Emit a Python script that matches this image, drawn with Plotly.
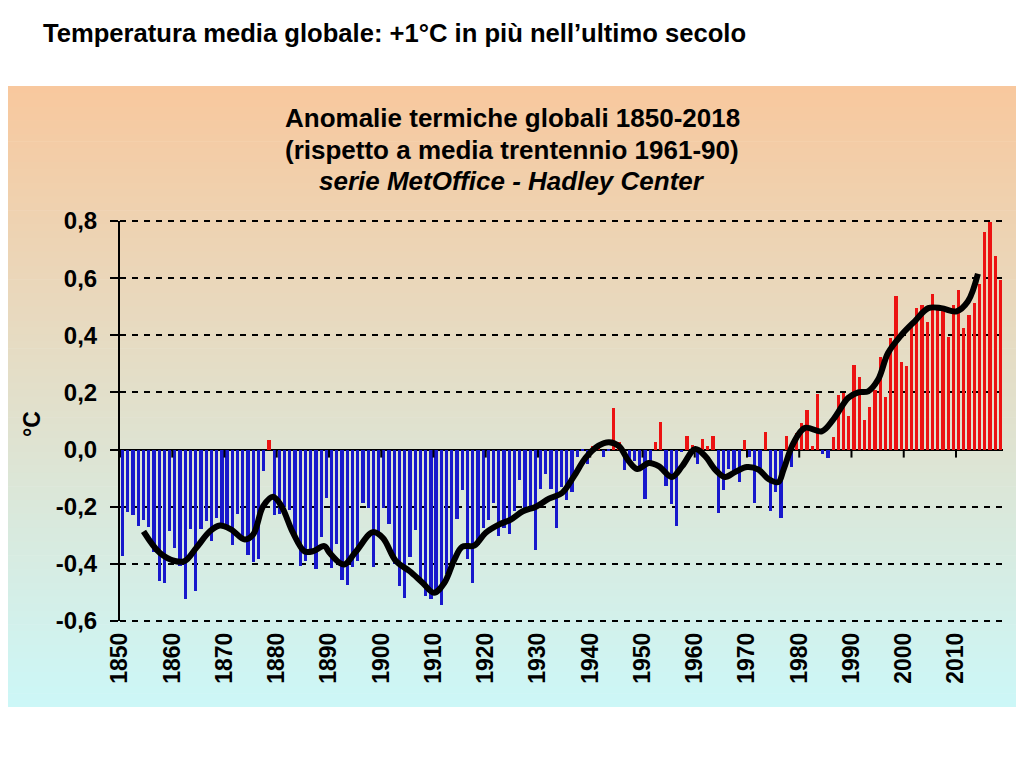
import plotly.graph_objects as go

years = list(range(1850, 2019))
anomalies = [
    -0.373, -0.218, -0.228, -0.269, -0.248, -0.272, -0.358, -0.461, -0.467, -0.284,
    -0.343, -0.407, -0.524, -0.278, -0.494, -0.279, -0.251, -0.321, -0.238, -0.262,
    -0.276, -0.335, -0.227, -0.304, -0.368, -0.395, -0.384, -0.075, 0.035, -0.230,
    -0.227, -0.200, -0.213, -0.296, -0.409, -0.389, -0.367, -0.418, -0.307, -0.171,
    -0.416, -0.330, -0.455, -0.473, -0.410, -0.390, -0.186, -0.206, -0.412, -0.289,
    -0.203, -0.259, -0.402, -0.479, -0.520, -0.377, -0.283, -0.465, -0.511, -0.522,
    -0.490, -0.544, -0.437, -0.424, -0.244, -0.141, -0.383, -0.468, -0.333, -0.275,
    -0.247, -0.187, -0.302, -0.276, -0.294, -0.215, -0.108, -0.210, -0.206, -0.350,
    -0.137, -0.087, -0.137, -0.273, -0.131, -0.178, -0.147, -0.026, -0.006, -0.052,
    0.014, 0.020, -0.027, -0.004, 0.144, 0.025, -0.071, -0.038, -0.039, -0.074,
    -0.173, -0.052, 0.028, 0.097, -0.129, -0.190, -0.267, -0.007, 0.046, 0.017,
    -0.049, 0.038, 0.014, 0.048, -0.223, -0.140, -0.068, -0.074, -0.113, 0.032,
    -0.027, -0.186, -0.065, 0.062, -0.214, -0.149, -0.241, 0.047, -0.062, 0.057,
    0.092, 0.140, 0.011, 0.194, -0.014, -0.030, 0.045, 0.192, 0.198, 0.118,
    0.296, 0.254, 0.105, 0.148, 0.208, 0.325, 0.183, 0.390, 0.539, 0.306,
    0.294, 0.441, 0.496, 0.505, 0.447, 0.545, 0.506, 0.491, 0.395, 0.506,
    0.560, 0.425, 0.470, 0.514, 0.579, 0.763, 0.797, 0.677, 0.595,
]

smooth_years = [1854.5, 1857.6, 1860.5, 1862.4, 1864.6, 1867.2, 1869.1, 1871.3, 1873.9, 1875.5,
                1877.4, 1879.3, 1880.9, 1883.1, 1885.3, 1886.9, 1889.1, 1890.1, 1892.0, 1893.0,
                1895.2, 1898.4, 1900.3, 1902.8, 1905.4, 1907.9, 1910.1, 1912.1, 1914.0, 1915.5,
                1917.8, 1920.0, 1922.6, 1924.8, 1927.1, 1929.6, 1932.1, 1934.6, 1936.9, 1939.1,
                1941.6, 1943.6, 1945.5, 1947.4, 1949.0, 1951.2, 1953.1, 1955.6, 1957.6, 1960.1,
                1962.0, 1963.9, 1965.8, 1967.7, 1970.0, 1972.2, 1974.1, 1976.0, 1977.0, 1978.9,
                1981.1, 1984.3, 1986.5, 1989.4, 1991.3, 1993.2, 1995.1, 1997.0, 1999.6, 2002.1,
                2004.7, 2007.2, 2010.1, 2012.3, 2014.2]
smooth_values = [-0.286, -0.361, -0.39, -0.39, -0.344, -0.286, -0.266, -0.28, -0.315, -0.297,
                 -0.198, -0.165, -0.198, -0.291, -0.356, -0.356, -0.338, -0.361, -0.396, -0.402,
                 -0.356, -0.289, -0.309, -0.39, -0.425, -0.466, -0.501, -0.466, -0.385, -0.34,
                 -0.336, -0.291, -0.262, -0.245, -0.216, -0.20, -0.172, -0.152, -0.093, -0.029,
                 0.014, 0.026, 0.012, -0.041, -0.068, -0.047, -0.058, -0.096, -0.058, 0.002,
                 -0.023, -0.07, -0.096, -0.079, -0.061, -0.07, -0.103, -0.114, -0.07, 0.023,
                 0.076, 0.064, 0.105, 0.181, 0.20, 0.204, 0.245, 0.338, 0.402, 0.449,
                 0.495, 0.495, 0.484, 0.519, 0.615]

x_ticks = [1850, 1860, 1870, 1880, 1890, 1900, 1910, 1920, 1930, 1940, 1950, 1960, 1970, 1980, 1990, 2000, 2010]
y_ticks = [-0.6, -0.4, -0.2, 0.0, 0.2, 0.4, 0.6, 0.8]
y_ticktext = ["-0,6", "-0,4", "-0,2", "0,0", "0,2", "0,4", "0,6", "0,8"]

main_title = "Temperatura media globale: +1°C in più nell’ultimo secolo"
chart_title = ["Anomalie termiche globali 1850-2018",
               "(rispetto a media trentennio 1961-90)",
               "<i>serie MetOffice - Hadley Center</i>"]

FONT = "Liberation Sans, Arial, sans-serif"
OFF = 8  # page body margin
W, H = 1024 - 2 * OFF, 757 - 2 * OFF
# plot area in page pixels
PL, PR, PT, PB = 120, 1003, 221, 621
ML, MT = PL - OFF, PT - OFF
MR = W - (PR - OFF)
MB = H - (PB - OFF)
PW, PH = PR - PL, PB - PT
Y_RANGE = [y_ticks[0], y_ticks[-1]]

def px_to_paper_x(px):
    return (px - PL) / PW

def px_to_paper_y(py):
    return (PB - py) / PH

blue = "#1818CC"
red = "#EC1212"
bar_x = [y + 0.5 for y in years]
colors = [red if v > 0 else blue for v in anomalies]

fig = go.Figure()
fig.add_trace(go.Bar(x=bar_x, y=anomalies, marker=dict(color=colors, line=dict(width=0)),
                     width=0.62, hoverinfo="x+y"))
fig.add_trace(go.Scatter(x=smooth_years, y=smooth_values, mode="lines",
                         line=dict(color="black", width=6, shape="spline", smoothing=1.0)))

# gradient background panel
top_c = (248, 200, 158)
bot_c = (204, 247, 247)
n = 90
p_top, p_bot = 86, 707
p_left, p_right = 3, 1020
shapes = []
for i in range(n):
    t = (i + 0.5) / n
    c = tuple(int(round(top_c[k] + (bot_c[k] - top_c[k]) * t)) for k in range(3))
    y0 = p_top + (p_bot - p_top) * i / n
    y1 = p_top + (p_bot - p_top) * (i + 1) / n + 0.6
    shapes.append(dict(type="rect", xref="paper", yref="paper", layer="below",
                       x0=px_to_paper_x(p_left), x1=px_to_paper_x(p_right),
                       y0=px_to_paper_y(min(y1, p_bot)), y1=px_to_paper_y(y0),
                       fillcolor="rgb(%d,%d,%d)" % c, line=dict(width=0)))
# dashed gridlines at the two range ends (plotly omits them at the axis edges)
for yv in (y_ticks[0], y_ticks[-1]):
    yp = (yv - Y_RANGE[0]) / (Y_RANGE[1] - Y_RANGE[0])
    shapes.append(dict(type="line", xref="paper", yref="paper", x0=0, x1=1, y0=yp, y1=yp,
                       layer="below", line=dict(color="black", width=2, dash="6px,6px")))
# small ticks on the zero line
for t in x_ticks:
    shapes.append(dict(type="line", xref="x", yref="y", x0=t, x1=t, y0=0, y1=-0.028,
                       line=dict(color="black", width=2)))

annotations = [dict(text="<b>%s</b>" % main_title, x=px_to_paper_x(41), y=px_to_paper_y(33),
                    xref="paper", yref="paper", showarrow=False, xanchor="left", yanchor="middle",
                    font=dict(family=FONT, size=25.6, color="black"))]
for line, yc in zip(chart_title, [118, 150, 181]):
    annotations.append(dict(text="<b>%s</b>" % line, x=px_to_paper_x(512), y=px_to_paper_y(yc),
                            xref="paper", yref="paper", showarrow=False,
                            xanchor="center", yanchor="middle",
                            font=dict(family=FONT, size=26, color="black")))
annotations.append(dict(text="<b>°C</b>", x=px_to_paper_x(32), y=px_to_paper_y(424),
                        xref="paper", yref="paper", showarrow=False, textangle=-90,
                        xanchor="center", yanchor="middle",
                        font=dict(family=FONT, size=23, color="black")))

fig.update_layout(
    width=W, height=H,
    margin=dict(l=ML, r=MR, t=MT, b=MB, pad=0),
    paper_bgcolor="white", plot_bgcolor="rgba(0,0,0,0)",
    showlegend=False, bargap=0,
    shapes=shapes, annotations=annotations,
    font=dict(family=FONT, color="black"),
)
fig.update_xaxes(range=[1850, 2019], tickvals=x_ticks, ticktext=[str(t) for t in x_ticks],
                 tickangle=-90, showgrid=False, zeroline=False, showline=False, ticks="",
                 ticklabelstandoff=6,
                 tickfont=dict(family=FONT, size=23, color="black", weight="bold"))
fig.update_yaxes(range=Y_RANGE, tickvals=y_ticks, ticktext=y_ticktext,
                 showgrid=True, gridcolor="black", gridwidth=2, griddash="6px,6px",
                 zeroline=True, zerolinecolor="black", zerolinewidth=2,
                 showline=True, linecolor="black", linewidth=2,
                 ticks="outside", ticklen=8, tickwidth=2, tickcolor="black",
                 ticklabelstandoff=8,
                 tickfont=dict(family=FONT, size=24, color="black", weight="bold"))

fig.write_html("out.html")
